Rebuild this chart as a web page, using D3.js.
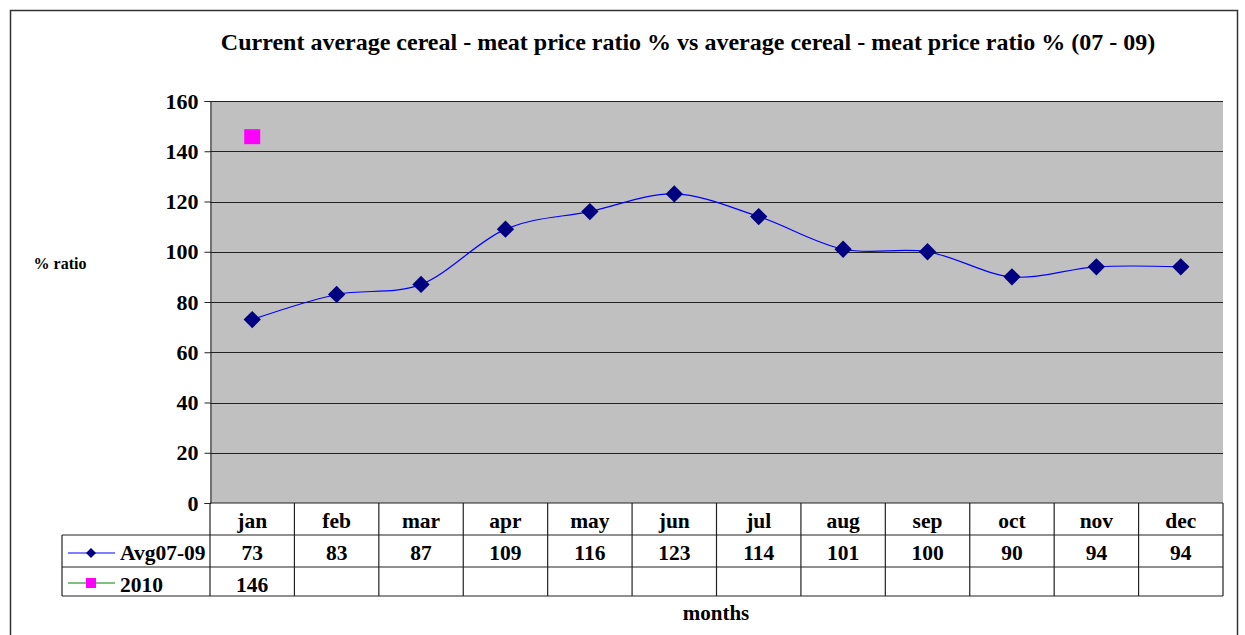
<!DOCTYPE html>
<html>
<head>
<meta charset="utf-8">
<script src="https://cdn.jsdelivr.net/npm/d3@7"></script>
<style>
  body { margin: 0; background: #fff; }
  svg text { font-family: "Liberation Serif", "Times New Roman", serif; font-weight: bold; }
</style>
</head>
<body>
<div id="chart"></div>
<script>
// chart values
var months = ["jan", "feb", "mar", "apr", "may", "jun", "jul", "aug", "sep", "oct", "nov", "dec"]
var avg0709 = [73, 83, 87, 109, 116, 123, 114, 101, 100, 90, 94, 94]
var y2010 = [146]
var yTicks = [0, 20, 40, 60, 80, 100, 120, 140, 160]
var seriesNames = ["Avg07-09", "2010"]

var W = 1245, H = 635
var plot = { left: 210, right: 1223, top: 101, bottom: 503 }
var rowH = [32, 32, 29] // header, avg, 2010
var fs = 21.5

var svg = d3.select("#chart").append("svg")
    .attr("width", W)
    .attr("height", H)

// outer frame
svg.append("rect")
    .attr("x", 10.5).attr("y", 10.5)
    .attr("width", 1227).attr("height", 640)
    .attr("fill", "none")
    .attr("stroke", "#333")
    .attr("stroke-width", 1.5)

svg.append("text")
    .attr("x", 688).attr("y", 50)
    .attr("text-anchor", "middle")
    .attr("font-size", 24)
    .text("Current average cereal - meat price ratio % vs average cereal - meat price ratio % (07 - 09)")

var x = d3.scaleBand().domain(months).range([plot.left, plot.right])
var y = d3.scaleLinear().domain([0, 160]).range([plot.bottom, plot.top])

// plot background
svg.append("rect")
    .attr("x", plot.left).attr("y", plot.top)
    .attr("width", plot.right - plot.left)
    .attr("height", plot.bottom - plot.top)
    .attr("fill", "#c0c0c0")

// gridlines
svg.append("g").selectAll("line")
    .data(yTicks.filter(function(d) { return d > 0 }))
    .enter().append("line")
    .attr("x1", plot.left).attr("x2", plot.right)
    .attr("y1", function(d) { return Math.round(y(d)) + 0.5 })
    .attr("y2", function(d) { return Math.round(y(d)) + 0.5 })
    .attr("stroke", "#222")
    .attr("stroke-width", 1)

// y axis
var yAxis = svg.append("g")
    .attr("transform", "translate(" + (plot.left + 0.5) + ",0)")
    .call(d3.axisLeft(y).tickValues(yTicks).tickSize(6).tickPadding(6))
yAxis.attr("font-family", null).attr("font-size", null)
yAxis.select(".domain").attr("stroke", "#222")
yAxis.selectAll(".tick line").attr("stroke", "#222")
yAxis.selectAll("text")
    .attr("font-size", 22)
    .attr("fill", "#000")

svg.append("text")
    .attr("x", 60).attr("y", 269)
    .attr("text-anchor", "middle")
    .attr("font-size", 16)
    .text("% ratio")

// smoothed avg line
var line = d3.line()
    .x(function(d, i) { return x(months[i]) + x.bandwidth() / 2 })
    .y(function(d) { return y(d) })
    .curve(d3.curveCatmullRom.alpha(0))

svg.append("path")
    .datum(avg0709)
    .attr("d", line)
    .attr("fill", "none")
    .attr("stroke", "#0000ff")
    .attr("stroke-width", 1.2)

var diamond = d3.symbol().type(d3.symbolSquare).size(150)
svg.append("g").selectAll("path")
    .data(avg0709)
    .enter().append("path")
    .attr("d", diamond)
    .attr("transform", function(d, i) {
        return "translate(" + (x(months[i]) + x.bandwidth() / 2) + "," + y(d) + ") rotate(45)"
    })
    .attr("fill", "#000080")

svg.append("g").selectAll("rect")
    .data(y2010)
    .enter().append("rect")
    .attr("x", function(d, i) { return x(months[i]) + x.bandwidth() / 2 - 8 })
    .attr("y", function(d) { return y(d) - 7 })
    .attr("width", 16).attr("height", 15)
    .attr("fill", "#ff00ff")

// data table
var tableTop = plot.bottom
var r1 = tableTop + rowH[0], r2 = r1 + rowH[1], r3 = r2 + rowH[2]
var legendLeft = 62
var tbl = svg.append("g").attr("stroke", "#222").attr("stroke-width", 1.2)

tbl.append("line").attr("x1", plot.left).attr("x2", plot.right).attr("y1", tableTop).attr("y2", tableTop)
;[r1, r2, r3].forEach(function(ry) {
    tbl.append("line").attr("x1", legendLeft).attr("x2", plot.right).attr("y1", ry).attr("y2", ry)
})
tbl.append("line").attr("x1", legendLeft).attr("x2", legendLeft).attr("y1", r1).attr("y2", r3)
months.forEach(function(m) {
    tbl.append("line").attr("x1", x(m)).attr("x2", x(m)).attr("y1", tableTop).attr("y2", r3)
})
tbl.append("line").attr("x1", plot.right).attr("x2", plot.right).attr("y1", tableTop).attr("y2", r3)

svg.append("g").selectAll("text")
    .data(months)
    .enter().append("text")
    .attr("x", function(d) { return x(d) + x.bandwidth() / 2 })
    .attr("y", tableTop + 25)
    .attr("text-anchor", "middle")
    .attr("font-size", fs)
    .text(function(d) { return d })

svg.append("g").selectAll("text")
    .data(avg0709)
    .enter().append("text")
    .attr("x", function(d, i) { return x(months[i]) + x.bandwidth() / 2 })
    .attr("y", r1 + 25)
    .attr("text-anchor", "middle")
    .attr("font-size", fs)
    .text(function(d) { return d })

svg.append("g").selectAll("text")
    .data(y2010)
    .enter().append("text")
    .attr("x", function(d, i) { return x(months[i]) + x.bandwidth() / 2 })
    .attr("y", r2 + 25)
    .attr("text-anchor", "middle")
    .attr("font-size", fs)
    .text(function(d) { return d })

// legend keys in table
var keyY1 = r1 + 18, keyY2 = r2 + 16
svg.append("line").attr("x1", 68).attr("x2", 115).attr("y1", keyY1).attr("y2", keyY1)
    .attr("stroke", "#0000ff").attr("stroke-width", 1.2)
svg.append("path").attr("d", d3.symbol().type(d3.symbolSquare).size(50))
    .attr("transform", "translate(91," + keyY1 + ") rotate(45)")
    .attr("fill", "#000080")
svg.append("line").attr("x1", 68).attr("x2", 115).attr("y1", keyY2).attr("y2", keyY2)
    .attr("stroke", "#55aa55").attr("stroke-width", 1.5)
svg.append("rect").attr("x", 86).attr("y", keyY2 - 5).attr("width", 10).attr("height", 10)
    .attr("fill", "#ff00ff")

svg.append("text").attr("x", 120).attr("y", r1 + 25).attr("font-size", fs).text(seriesNames[0])
svg.append("text").attr("x", 120).attr("y", r2 + 25).attr("font-size", fs).text(seriesNames[1])

svg.append("text")
    .attr("x", 716).attr("y", 620)
    .attr("text-anchor", "middle")
    .attr("font-size", 21)
    .text("months")
</script>
</body>
</html>
